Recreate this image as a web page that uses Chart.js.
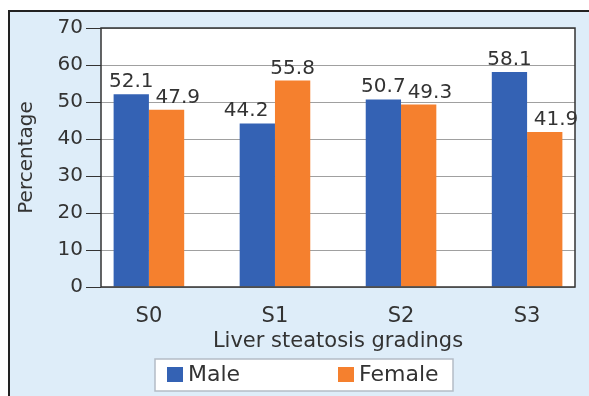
<!DOCTYPE html>
<html>
<head>
<meta charset="utf-8">
<title>Liver steatosis gradings</title>
<script src="https://cdn.jsdelivr.net/npm/chart.js@4.4.0/dist/chart.umd.min.js"></script>
<style>
  html, body { margin: 0; padding: 0; background: #fff; }
  body { width: 589px; height: 396px; position: relative; overflow: hidden; }
  #panel {
    position: absolute; left: 8px; top: 10px; right: 0; bottom: 0;
    background: #deedf9;
    border-left: 2px solid #222; border-top: 2px solid #222;
  }
  #chart-container { position: absolute; left: 0; top: 0; }
</style>
</head>
<body>
<div id="panel"></div>
<canvas id="chart-container" width="589" height="396"></canvas>
<script>
const categories = ['S0', 'S1', 'S2', 'S3'];
const maleValues = [52.1, 44.2, 50.7, 58.1];
const femaleValues = [47.9, 55.8, 49.3, 41.9];
const yTicks = [0, 10, 20, 30, 40, 50, 60, 70];
const seriesNames = ['Male', 'Female'];
const seriesColors = ['#3462b4', '#f5802e'];

document.addEventListener('DOMContentLoaded', () => {
  const canvas = document.getElementById('chart-container');
  const context = canvas.getContext('2d');
  const textColor = '#333';
  const family = '"DejaVu Sans", sans-serif';

  Chart.defaults.font.family = family;
  Chart.defaults.color = textColor;

  // white plot area and dark frame round it
  const plotFrame = {
    id: 'plotFrame',
    beforeDraw(chart) {
      const { ctx, chartArea: a } = chart;
      ctx.save();
      ctx.fillStyle = '#fff';
      ctx.fillRect(a.left, a.top, a.right - a.left, a.bottom - a.top);
      ctx.restore();
    },
    afterDraw(chart) {
      const { ctx, chartArea: a } = chart;
      ctx.save();
      ctx.strokeStyle = '#333';
      ctx.lineWidth = 1.5;
      ctx.strokeRect(a.left, a.top, a.right - a.left, a.bottom - a.top);
      ctx.restore();
    }
  };

  // value above each bar; the shorter bar's label moves outward if the two would collide
  const barLabels = {
    id: 'barLabels',
    afterDatasetsDraw(chart) {
      const ctx = chart.ctx;
      const m = chart.getDatasetMeta(0).data;
      const f = chart.getDatasetMeta(1).data;
      ctx.save();
      ctx.font = '20px ' + family;
      ctx.fillStyle = textColor;
      ctx.textAlign = 'center';
      ctx.textBaseline = 'alphabetic';
      categories.forEach((c, i) => {
        const ta = maleValues[i].toFixed(1);
        const tb = femaleValues[i].toFixed(1);
        const wa = ctx.measureText(ta).width;
        const wb = ctx.measureText(tb).width;
        const overlap = Math.max(0, (m[i].x + wa / 2) - (f[i].x - wb / 2) + 2);
        const maleLower = maleValues[i] < femaleValues[i];
        ctx.fillText(ta, m[i].x - (maleLower ? overlap : 0), m[i].y - 7);
        ctx.fillText(tb, f[i].x + (maleLower ? 0 : overlap), f[i].y - 7);
      });
      ctx.restore();
    }
  };

  // boxed legend under the axis title
  const boxLegend = {
    id: 'boxLegend',
    afterDraw(chart) {
      const ctx = chart.ctx;
      const box = { x: 155, y: 359, w: 298, h: 32 };
      const itemX = [12, 183];
      ctx.save();
      ctx.fillStyle = '#fff';
      ctx.fillRect(box.x, box.y, box.w, box.h);
      ctx.strokeStyle = '#b4bcc6';
      ctx.lineWidth = 1.5;
      ctx.strokeRect(box.x, box.y, box.w, box.h);
      ctx.font = '22px ' + family;
      ctx.textBaseline = 'middle';
      ctx.textAlign = 'left';
      chart.data.datasets.forEach((ds, i) => {
        const x = box.x + itemX[i];
        const cy = box.y + box.h / 2;
        ctx.fillStyle = ds.backgroundColor;
        ctx.fillRect(x, cy - 8, 16, 15);
        ctx.fillStyle = textColor;
        ctx.fillText(ds.label, x + 21, cy);
      });
      ctx.restore();
    }
  };

  const chart = new Chart(context, {
    type: 'bar',
    data: {
      datasets: [maleValues, femaleValues].map((vals, s) => ({
        label: seriesNames[s],
        data: vals.map((v, i) => ({ x: i, y: v })),
        backgroundColor: seriesColors[s],
        borderWidth: 0,
        categoryPercentage: 0.56,
        barPercentage: 1
      }))
    },
    options: {
      responsive: false,
      animation: false,
      layout: { padding: { left: 0, right: 14, top: 28, bottom: 42 } },
      plugins: {
        legend: { display: false },
        tooltip: { enabled: false }
      },
      scales: {
        x: {
          type: 'linear',
          min: -0.38,
          max: 3.38,
          offset: false,
          afterBuildTicks: (scale) => {
            scale.ticks = categories.map((c, i) => ({ value: i }));
          },
          afterFit: (scale) => { scale.height = 67; },
          grid: { display: false, offset: false },
          border: { display: false },
          ticks: {
            padding: 9,
            font: { size: 21 },
            color: textColor,
            callback: (value) => categories[value]
          },
          title: {
            display: true,
            text: 'Liver steatosis gradings',
            font: { size: 21 },
            color: textColor,
            padding: { top: 1, bottom: 0 }
          }
        },
        y: {
          min: 0,
          max: 70,
          afterBuildTicks: (scale) => {
            scale.ticks = yTicks.map(v => ({ value: v }));
          },
          afterFit: (scale) => { scale.width = 101; },
          grid: { color: '#a0a0a0', lineWidth: 1, tickLength: 15, tickColor: '#333' },
          border: { display: false },
          ticks: { padding: 3, font: { size: 20 }, color: textColor },
          title: {
            display: true,
            text: 'Percentage',
            font: { size: 20 },
            color: textColor,
            padding: { top: 15, bottom: 0 }
          }
        }
      }
    },
    plugins: [plotFrame, barLabels, boxLegend]
  });
});
</script>
</body>
</html>
